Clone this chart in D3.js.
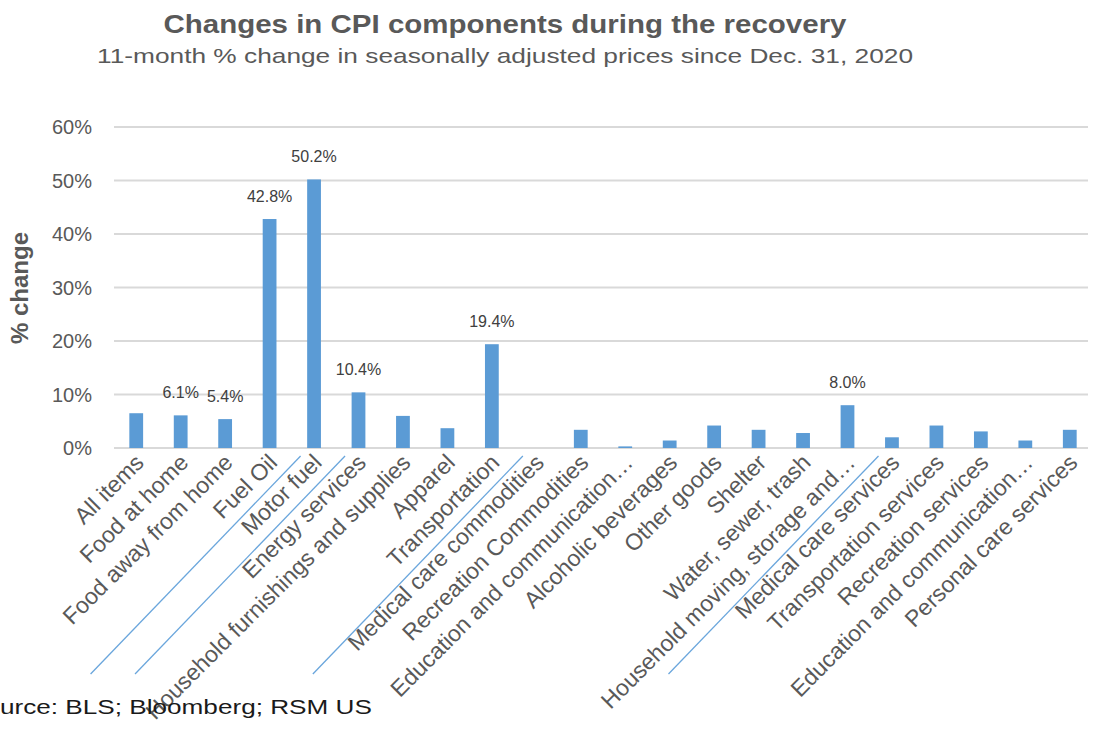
<!DOCTYPE html>
<html>
<head>
<meta charset="utf-8">
<script src="https://cdn.jsdelivr.net/npm/d3@7"></script>
<style>
  html, body { margin: 0; padding: 0; background: #ffffff; }
  svg { display: block; font-family: "Liberation Sans", Arial, sans-serif; }
</style>
</head>
<body>
<svg id="chart" width="1093" height="730"></svg>
<script>
// ---- data ----
const categories = [
  "All items", "Food at home", "Food away from home", "Fuel Oil", "Motor fuel",
  "Energy services", "Household furnishings and supplies", "Apparel", "Transportation",
  "Medical care commodities", "Recreation Commodities", "Education and communication…",
  "Alcoholic beverages", "Other goods", "Shelter", "Water, sewer, trash",
  "Household moving, storage and…", "Medical care services", "Transportation services",
  "Recreation services", "Education and communication…", "Personal care services"
];
const values = [6.5, 6.1, 5.4, 42.8, 50.2, 10.4, 6.0, 3.7, 19.4, 0.0, 3.4, 0.3,
                1.4, 4.2, 3.4, 2.8, 8.0, 2.0, 4.2, 3.1, 1.4, 3.4];
const dataLabels = ["", "6.1%", "5.4%", "42.8%", "50.2%", "10.4%", "", "", "19.4%", "", "", "",
                    "", "", "", "", "8.0%", "", "", "", "", ""];
const yTicks = [0, 10, 20, 30, 40, 50, 60];
const slashAfter = [3, 4, 8, 16]; // indices of categories followed by a blue slash stroke

const titleText = "Changes in CPI components during the recovery";
const subtitleText = "11-month % change in seasonally adjusted prices since Dec. 31, 2020";
const yTitleText = "% change";
const sourceText = "Source: BLS; Bloomberg; RSM US";

// ---- layout ----
const svg = d3.select("#chart");
const plot = { left: 114, right: 1092, top: 127, bottom: 448 };
const grey = "#595959";

const x = d3.scaleBand()
  .domain(d3.range(categories.length))
  .range([plot.left, plot.right])
  .paddingInner(0.69)
  .paddingOuter(0.345);

const y = d3.scaleLinear().domain([0, 60]).range([plot.bottom, plot.top]);

// gridlines
svg.append("g").selectAll("line")
  .data(yTicks)
  .join("line")
  .attr("x1", plot.left).attr("x2", plot.right - 4)
  .attr("y1", d => y(d)).attr("y2", d => y(d))
  .attr("stroke", "#d9d9d9").attr("stroke-width", 2);

// y tick labels
svg.append("g").selectAll("text")
  .data(yTicks)
  .join("text")
  .attr("x", 92).attr("y", d => y(d))
  .attr("dy", "0.35em")
  .attr("text-anchor", "end")
  .attr("font-size", 20)
  .attr("fill", grey)
  .text(d => d + "%");

// bars
svg.append("g").selectAll("rect")
  .data(values)
  .join("rect")
  .attr("x", (d, i) => x(i))
  .attr("width", x.bandwidth())
  .attr("y", d => y(d))
  .attr("height", d => y(0) - y(d))
  .attr("fill", "#5b9bd5");

// data labels
svg.append("g").selectAll("text")
  .data(values.map((v, i) => ({ v, i, t: dataLabels[i] })).filter(d => d.t))
  .join("text")
  .attr("x", d => x(d.i) + x.bandwidth() / 2)
  .attr("y", d => y(d.v) - 17)
  .attr("text-anchor", "middle")
  .attr("font-size", 16)
  .attr("fill", "#404040")
  .text(d => d.t);

// category labels
svg.append("g").selectAll("text")
  .data(categories)
  .join("text")
  .attr("transform", (d, i) => `translate(${x(i) + x.bandwidth() / 2 + 9},${464}) rotate(-45)`)
  .attr("text-anchor", "end")
  .attr("font-size", 23)
  .attr("fill", grey)
  .text(d => d);

// blue slash strokes
svg.append("g").selectAll("line")
  .data(slashAfter)
  .join("line")
  .attr("x1", i => x(i) + x.bandwidth() / 2 + 31)
  .attr("y1", 456)
  .attr("x2", i => x(i) + x.bandwidth() / 2 + 31 - 210)
  .attr("y2", 674)
  .attr("stroke", "#6aa6dc")
  .attr("stroke-width", 1.3);

// title
svg.append("text")
  .attr("x", 505).attr("y", 33)
  .attr("text-anchor", "middle")
  .attr("font-size", 25).attr("font-weight", "bold")
  .attr("fill", grey)
  .attr("textLength", 683).attr("lengthAdjust", "spacingAndGlyphs")
  .text(titleText);

svg.append("text")
  .attr("x", 505).attr("y", 63)
  .attr("text-anchor", "middle")
  .attr("font-size", 21)
  .attr("fill", grey)
  .attr("textLength", 816).attr("lengthAdjust", "spacingAndGlyphs")
  .text(subtitleText);

// y axis title
svg.append("text")
  .attr("transform", "translate(28,288) rotate(-90)")
  .attr("text-anchor", "middle")
  .attr("font-size", 24).attr("font-weight", "bold")
  .attr("fill", grey)
  .text(yTitleText);

// source (left part clipped by the page edge, as in the reference)
const src = svg.append("g");
const probe = src.append("text").attr("font-size", 21).text("So");
const soW = probe.node().getComputedTextLength();
probe.text(sourceText.slice(2));
const restW = probe.node().getComputedTextLength();
probe.remove();
const sx = 372 / restW;
src.attr("transform", `translate(0,714) scale(${sx},1)`)
  .append("text")
  .attr("x", -soW).attr("y", 0)
  .attr("font-size", 21)
  .attr("fill", "#1a1a1a")
  .text(sourceText);
</script>
</body>
</html>
